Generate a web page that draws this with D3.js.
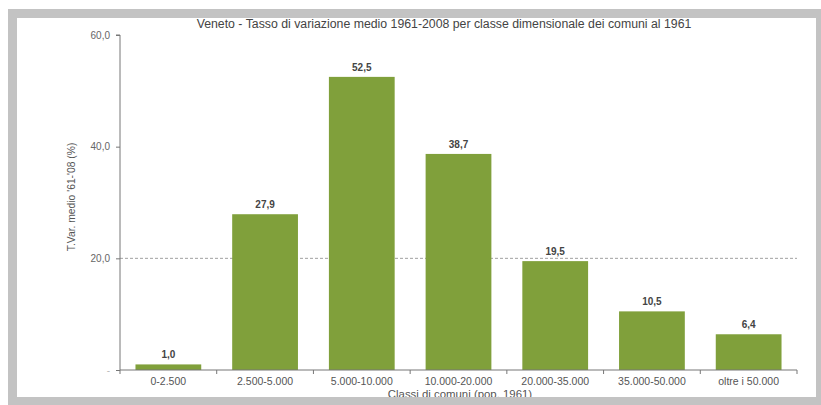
<!DOCTYPE html>
<html>
<head>
<meta charset="utf-8">
<script src="https://cdn.jsdelivr.net/npm/d3@7"></script>
<style>
  body { margin: 0; background: #fff; }
  svg { display: block; font-family: "Liberation Sans", Arial, sans-serif; }
</style>
</head>
<body>
<div id="chart"></div>
<script>
// data
var categories = ['0-2.500', '2.500-5.000', '5.000-10.000', '10.000-20.000', '20.000-35.000', '35.000-50.000', 'oltre i 50.000'];
var values = [1.0, 27.9, 52.5, 38.7, 19.5, 10.5, 6.4];
var yTicks = [0, 20, 40, 60];
var yTickLabels = ['-', '20,0', '40,0', '60,0'];
var title = 'Veneto - Tasso di variazione medio 1961-2008 per classe dimensionale dei comuni al 1961';
var yTitle = "T.Var. medio '61-'08 (%)";
var xTitle = 'Classi di comuni (pop. 1961)';

var svgWidth = 821;
var svgHeight = 405;

var margin = { top: 35, right: 24, bottom: 35, left: 120 };
var width = svgWidth - margin.left - margin.right;
var height = svgHeight - margin.top - margin.bottom;

var fmt = function(v) { return v.toFixed(1).replace('.', ','); };

var svg = d3.select('#chart')
    .append('svg')
    .attr('width', svgWidth)
    .attr('height', svgHeight);

var chartGroup = svg.append('g')
    .attr('transform', `translate(${margin.left}, ${margin.top})`);

var xScale = d3.scaleBand()
    .domain(categories)
    .range([0, width])
    .paddingInner(0.32)
    .paddingOuter(0.16);

var yScale = d3.scaleLinear()
    .domain([0, 60])
    .range([height, 0]);

// dashed reference line at 20
chartGroup.append('line')
    .attr('x1', 0)
    .attr('x2', width)
    .attr('y1', yScale(20))
    .attr('y2', yScale(20))
    .attr('stroke', '#888')
    .attr('stroke-width', 0.8)
    .attr('stroke-dasharray', '3,2');

// bars
chartGroup.selectAll('rect.bar')
    .data(values)
    .enter()
    .append('rect')
    .attr('class', 'bar')
    .attr('x', (d, i) => xScale(categories[i]))
    .attr('y', d => yScale(d))
    .attr('width', xScale.bandwidth())
    .attr('height', d => height - yScale(d))
    .attr('fill', '#80a03b');

// value labels
chartGroup.selectAll('text.val')
    .data(values)
    .enter()
    .append('text')
    .attr('class', 'val')
    .attr('x', (d, i) => xScale(categories[i]) + xScale.bandwidth() / 2)
    .attr('y', d => yScale(d) - 6)
    .attr('text-anchor', 'middle')
    .attr('font-size', '10px')
    .attr('font-weight', 'bold')
    .attr('fill', '#444')
    .text(d => fmt(d));

// y axis
var leftAxis = d3.axisLeft(yScale)
    .tickValues(yTicks)
    .tickSize(4)
    .tickPadding(6)
    .tickFormat((d, i) => yTickLabels[i]);

var yAxisG = chartGroup.append('g').call(leftAxis);
yAxisG.select('.domain').attr('stroke', '#777').attr('d', `M-4,0H0V${height}`);
yAxisG.selectAll('.tick line').attr('stroke', '#777');
yAxisG.selectAll('.tick text')
    .attr('fill', '#666')
    .attr('font-size', '10px')
    .attr('font-family', '"Liberation Sans", Arial, sans-serif');
yAxisG.selectAll('.tick').filter(d => d === 0).select('text').attr('fill', '#bbb');

// x axis: ticks at the band boundaries
var boundaries = categories.map(c => xScale(c) - xScale.step() * xScale.paddingInner() / 2);
boundaries[0] = 0;
boundaries.push(width);

var xAxisG = chartGroup.append('g')
    .attr('transform', `translate(0, ${height})`);

xAxisG.append('line')
    .attr('x1', 0)
    .attr('x2', width)
    .attr('stroke', '#777');

xAxisG.selectAll('line.tk')
    .data(boundaries)
    .enter()
    .append('line')
    .attr('class', 'tk')
    .attr('x1', d => d)
    .attr('x2', d => d)
    .attr('y1', 0)
    .attr('y2', 4)
    .attr('stroke', '#777');

xAxisG.selectAll('text.cat')
    .data(categories)
    .enter()
    .append('text')
    .attr('class', 'cat')
    .attr('x', d => xScale(d) + xScale.bandwidth() / 2)
    .attr('y', 15)
    .attr('text-anchor', 'middle')
    .attr('font-size', '10.5px')
    .attr('fill', '#555')
    .text(d => d);

// axis titles
chartGroup.append('text')
    .attr('transform', 'rotate(-90)')
    .attr('x', 0 - yScale(31))
    .attr('y', -45)
    .attr('text-anchor', 'middle')
    .attr('font-size', '10.3px')
    .attr('fill', '#555')
    .text(yTitle);

chartGroup.append('text')
    .attr('x', 340)
    .attr('y', height + 28)
    .attr('text-anchor', 'middle')
    .attr('font-size', '11.4px')
    .attr('fill', '#555')
    .text(xTitle);

// gray frame around the panel (drawn on top, clips the x title)
var frame = d3.path();
frame.rect(8, 9, 813, 396);
frame.rect(17, 18, 799, 379);
svg.append('path')
    .attr('d', frame.toString())
    .attr('fill', '#c3c3c3')
    .attr('fill-rule', 'evenodd');

// title
svg.append('text')
    .attr('x', 444)
    .attr('y', 28)
    .attr('text-anchor', 'middle')
    .attr('font-size', '12.3px')
    .attr('fill', '#444')
    .text(title);
</script>
</body>
</html>
